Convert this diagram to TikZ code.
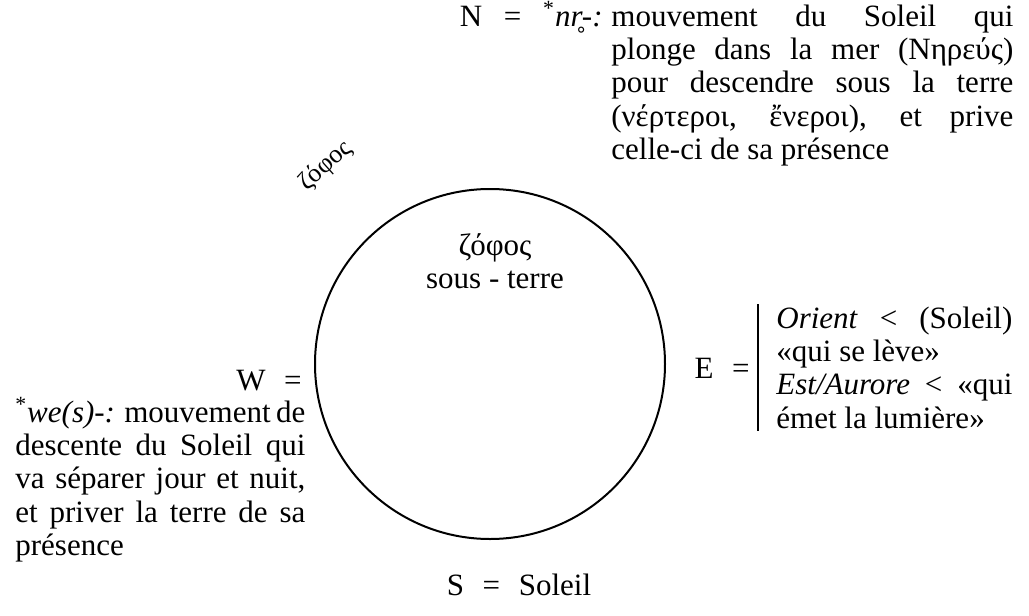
\documentclass[tikz,border=0pt]{standalone}
\usepackage{fontspec}
\setmainfont{Liberation Serif}
\usetikzlibrary{positioning}

\hyphenpenalty=10000
\tolerance=9999

\tikzset{
  txt/.style={font=\fontsize{15.5}{16.7}\selectfont, inner sep=0pt},
  para/.style={txt, align=justify, anchor=base west}
}

\begin{document}
\begin{tikzpicture}[x=0.5pt, y=-0.5pt]

  \useasboundingbox (0,0) rectangle (1029,616);

  % The earth, seen as a circle
  \node[circle, draw, line width=1pt, minimum size=175pt, inner sep=0pt] (terre) at (490,364) {};

  % Inside the circle
  \node[txt, anchor=base] (zophosin) at (495,255) {ζόφος};
  \node[txt, anchor=base] (sousterre) at (495,288) {sous - terre};

  % Outside, tilted
  \node[txt, font=\fontsize{13}{14}\selectfont, rotate=42] (zophosout) at (326,166) {ζόφος};

  % North
  \node[para, text width=201pt] (ntext) at (611,26)
    {mouvement du Soleil qui plonge dans la mer (Νηρεύς) pour descendre sous la terre (νέρτεροι, ἔνεροι), et prive celle-ci de sa présence};
  \node[txt, anchor=base east] (nlabel) at ([xshift=-4pt]ntext.base west)
    {N\hspace{0.7em}=\hspace{0.7em}\textsuperscript{*}\textit{nr̥-:}};

  % West
  \node[txt, anchor=base east] (wlabel) at (302,390) {W\hspace{0.6em}=};
  \node[para, text width=145pt] (wtext) at (15,422)
    {\textsuperscript{*}\textit{we(s)-:} mouvement de descente du Soleil qui va séparer jour et nuit, et priver la terre de sa présence};

  % East
  \node[para, text width=118pt] (etext) at (776,328)
    {\textit{Orient} < (Soleil) «qui se lève»\\ \textit{Est/Aurore} < «qui émet la lumière»};
  \draw[line width=0.8pt] ([xshift=-9pt, yshift=1pt]etext.north west)
    -- ([xshift=-9pt, yshift=-1pt]etext.south west);
  \node[txt, anchor=base east] (elabel) at (750,378) {E\hspace{0.6em}=};

  % South
  \node[txt, anchor=base] (slabel) at (519,595) {S\hspace{0.6em}=\hspace{0.6em}Soleil};

\end{tikzpicture}
\end{document}
